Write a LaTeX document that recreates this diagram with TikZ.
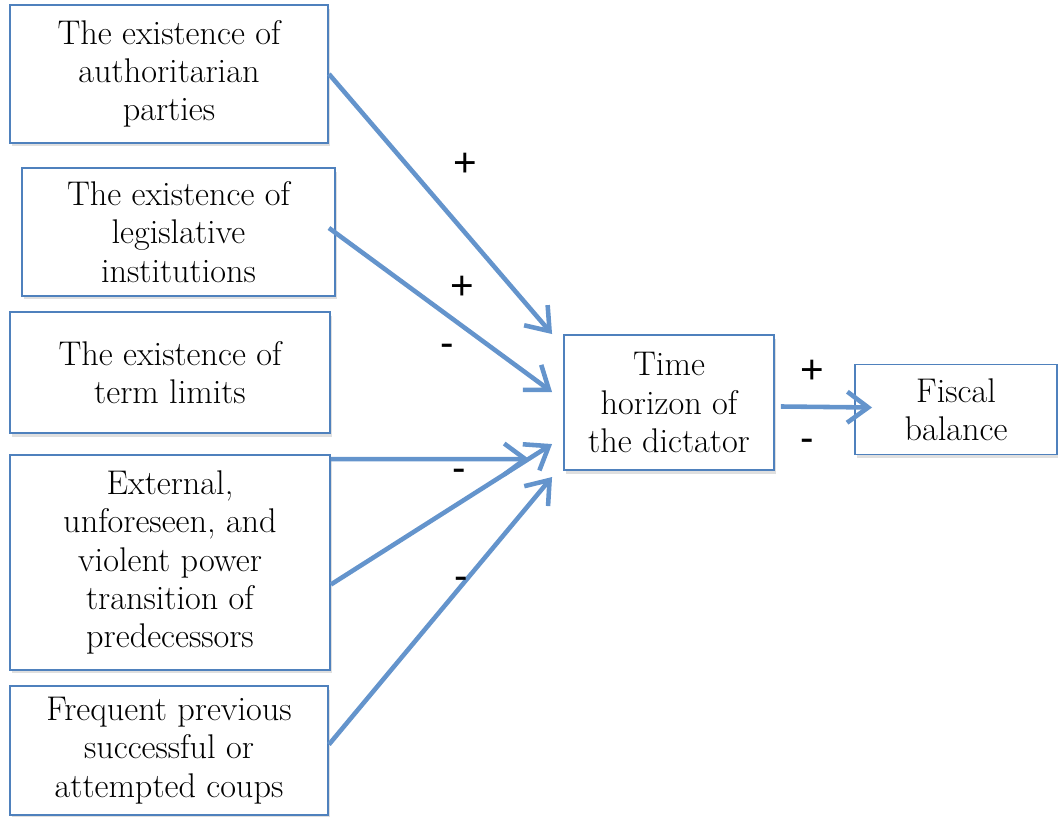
\documentclass[tikz,border=0pt]{standalone}
\usepackage{fontspec}
\usepackage{xcolor}
\usepackage{tikz}
\usetikzlibrary{arrows, arrows.meta}
\usetikzlibrary{positioning}
\usetikzlibrary{calc}
\usetikzlibrary{shadows}
\newfontfamily\signfont{Liberation Sans}
\definecolor{boxblue}{RGB}{79,129,189}
\definecolor{arrblue}{RGB}{100,148,204}

\begin{document}
\begin{tikzpicture}[x=0.02cm, y=-0.02cm,
		box/.style={draw=boxblue, line width=1.1pt, fill=white, align=center, inner sep=2pt,
			font=\fontsize{19.5}{21.8}\selectfont,
			drop shadow={shadow xshift=1pt, shadow yshift=-2pt, opacity=0.25}},
		sign/.style={font=\signfont\fontsize{23}{24}\selectfont, inner sep=0pt},
		arr/.style={draw=arrblue, line width=2.6pt, -{Straight Barb[length=0.42cm, width=0.62cm]}}]
			\useasboundingbox (0,0) rectangle (1058,817);

			% causes
			\node[box, minimum width=6.36cm, minimum height=2.76cm](auth) at (169,74){The existence of\\authoritarian\\parties};
			\node[box, minimum width=6.26cm, minimum height=2.56cm](legis) at (178.5,232){The existence of\\legislative\\institutions};
			\node[box, minimum width=6.4cm, minimum height=2.42cm](term) at (170,372.5){The existence of\\term limits};
			\node[box, minimum width=6.4cm, minimum height=4.3cm](trans) at (170,562.5){External,\\unforeseen, and\\violent power\\transition of\\predecessors};
			\node[box, minimum width=6.36cm, minimum height=2.58cm](coups) at (169,750.5){Frequent previous\\successful or\\attempted coups};

			% outcome
			\node[box, minimum width=4.2cm, minimum height=2.7cm](time) at (669,402.5){Time\\horizon of\\the dictator};
			\node[box, minimum width=4.04cm, minimum height=1.8cm](fiscal) at (956,409.5){Fiscal\\balance};

			\coordinate (e1) at ($(time.north west)+(-11,0)$);
			\coordinate (e2) at ($(time.north west)+(-11,58)$);
			\coordinate (e3) at ($(time.north west)+(-34,125)$);
			\coordinate (e4) at ($(time.north west)+(-11,110)$);
			\coordinate (e5) at ($(time.north west)+(-11,143)$);

			\draw[arr] (auth.east) -- (e1);
			\draw[arr] ($(legis.east)+(-7,-4)$) -- (e2);
			\draw[arr] ($(trans.north east)+(0,5)$) -- (e3);
			\draw[arr] ($(trans.east)+(0,22)$) -- (e4);
			\draw[arr] ($(coups.east)+(0,-6)$) -- (e5);
			\draw[arr] ($(time.east)+(6,4)$) -- ($(fiscal.west)+(18,-2)$);

			\node[sign](s1) at (465,165){+};
			\node[sign](s2) at (462,288){+};
			\node[sign](s3) at (447,350){-};
			\node[sign](s4) at (459,475){-};
			\node[sign](s5) at (461,583){-};
			\node[sign](s6) at (812,372){+};
			\node[sign](s7) at (807,445){-};
		\end{tikzpicture}
\end{document}
